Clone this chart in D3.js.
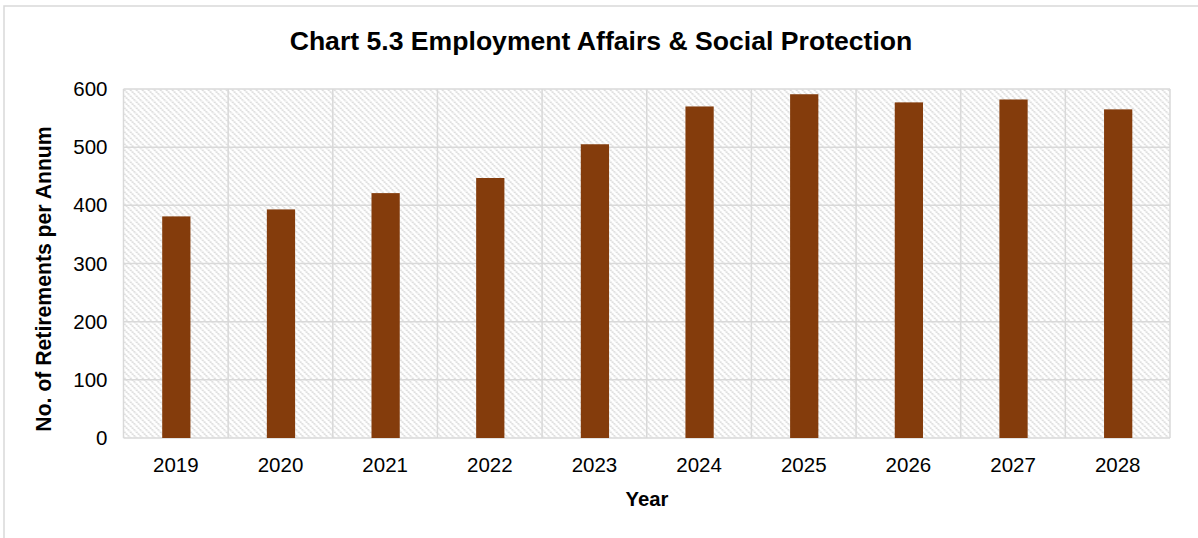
<!DOCTYPE html>
<html>
<head>
<meta charset="utf-8">
<script src="https://cdn.jsdelivr.net/npm/d3@7"></script>
<style>
  html, body { margin: 0; padding: 0; background: #fff; }
  svg { display: block; font-family: "Liberation Sans", Arial, sans-serif; }
</style>
</head>
<body>
<svg id="chart" width="1198" height="538"></svg>
<script>
// Retirements per annum, Employment Affairs & Social Protection
const years = ["2019", "2020", "2021", "2022", "2023", "2024", "2025", "2026", "2027", "2028"];
const retirements = [381, 393, 421, 447, 505, 570, 591, 577, 582, 565];
const yTicks = [0, 100, 200, 300, 400, 500, 600];

const svg = d3.select("#chart");
const W = 1198, H = 538;
const margin = { left: 123.5, right: 28, top: 89, bottom: 100 };
const plotW = W - margin.left - margin.right;
const plotH = H - margin.top - margin.bottom;
const FONT = "Liberation Sans, Arial, sans-serif";

// Outer chart frame
svg.append("rect")
  .attr("x", 4).attr("y", 6)
  .attr("width", W + 10).attr("height", H + 10)
  .attr("fill", "#fff").attr("stroke", "#d9d9d9").attr("stroke-width", 1.5);

// Diagonal hatch fill for the plot background
const defs = svg.append("defs");
const pat = defs.append("pattern")
  .attr("id", "hatch")
  .attr("patternUnits", "userSpaceOnUse")
  .attr("width", 6).attr("height", 6);
pat.append("rect").attr("width", 6).attr("height", 6).attr("fill", "#fff");
pat.append("path")
  .attr("d", "M-1,-1 L7,7 M-1,5 L1,7 M5,-1 L7,1")
  .attr("stroke", "#d2d2d2").attr("stroke-width", 1.5)
  .attr("stroke-dasharray", "1.6,0.9");

const x = d3.scaleBand().domain(years).range([0, plotW]).paddingInner(0).paddingOuter(0);
const y = d3.scaleLinear().domain([0, 600]).range([plotH, 0]);

const g = svg.append("g").attr("transform", `translate(${margin.left},${margin.top})`);

g.append("rect")
  .attr("width", plotW).attr("height", plotH)
  .attr("fill", "url(#hatch)");

// Horizontal gridlines
g.selectAll(".hgrid").data(yTicks).join("line")
  .attr("x1", 0).attr("x2", plotW)
  .attr("y1", d => y(d)).attr("y2", d => y(d))
  .attr("stroke", "#d9d9d9").attr("stroke-width", 1.5);

// Vertical gridlines at category boundaries
const bounds = years.map(d => x(d)).concat([plotW]);
g.selectAll(".vgrid").data(bounds).join("line")
  .attr("x1", d => d).attr("x2", d => d)
  .attr("y1", 0).attr("y2", plotH)
  .attr("stroke", "#d9d9d9").attr("stroke-width", 1.5);

// Bars
const barW = x.bandwidth() * 0.27;
g.selectAll(".bar").data(years).join("rect")
  .attr("x", d => x(d) + x.bandwidth() / 2 - barW / 2 + 0.5)
  .attr("y", (d, i) => y(retirements[i]))
  .attr("width", barW)
  .attr("height", (d, i) => plotH - y(retirements[i]))
  .attr("fill", "#843c0c");

// Y axis labels
const yAxis = d3.axisLeft(y).tickValues(yTicks).tickSize(0).tickPadding(16);
g.append("g").call(yAxis)
  .call(s => s.select(".domain").remove())
  .selectAll("text")
  .attr("font-size", 20.5).attr("fill", "#000")
  .attr("font-family", FONT);

// X axis labels
const xAxis = d3.axisBottom(x).tickSize(0).tickPadding(19);
g.append("g").attr("transform", `translate(0,${plotH})`).call(xAxis)
  .call(s => s.select(".domain").remove())
  .selectAll("text")
  .attr("font-size", 20.5).attr("fill", "#000")
  .attr("font-family", FONT);

// Title
svg.append("text")
  .attr("x", 601).attr("y", 50)
  .attr("text-anchor", "middle")
  .attr("font-size", 26.6).attr("font-weight", "bold")
  .text("Chart 5.3 Employment Affairs & Social Protection");

// Axis titles
svg.append("text")
  .attr("x", 647).attr("y", 506)
  .attr("text-anchor", "middle")
  .attr("font-size", 20.3).attr("font-weight", "bold")
  .text("Year");

svg.append("text")
  .attr("transform", `translate(51,279) rotate(-90)`)
  .attr("text-anchor", "middle")
  .attr("font-size", 21.2).attr("font-weight", "bold")
  .text("No. of Retirements per Annum");
</script>
</body>
</html>
